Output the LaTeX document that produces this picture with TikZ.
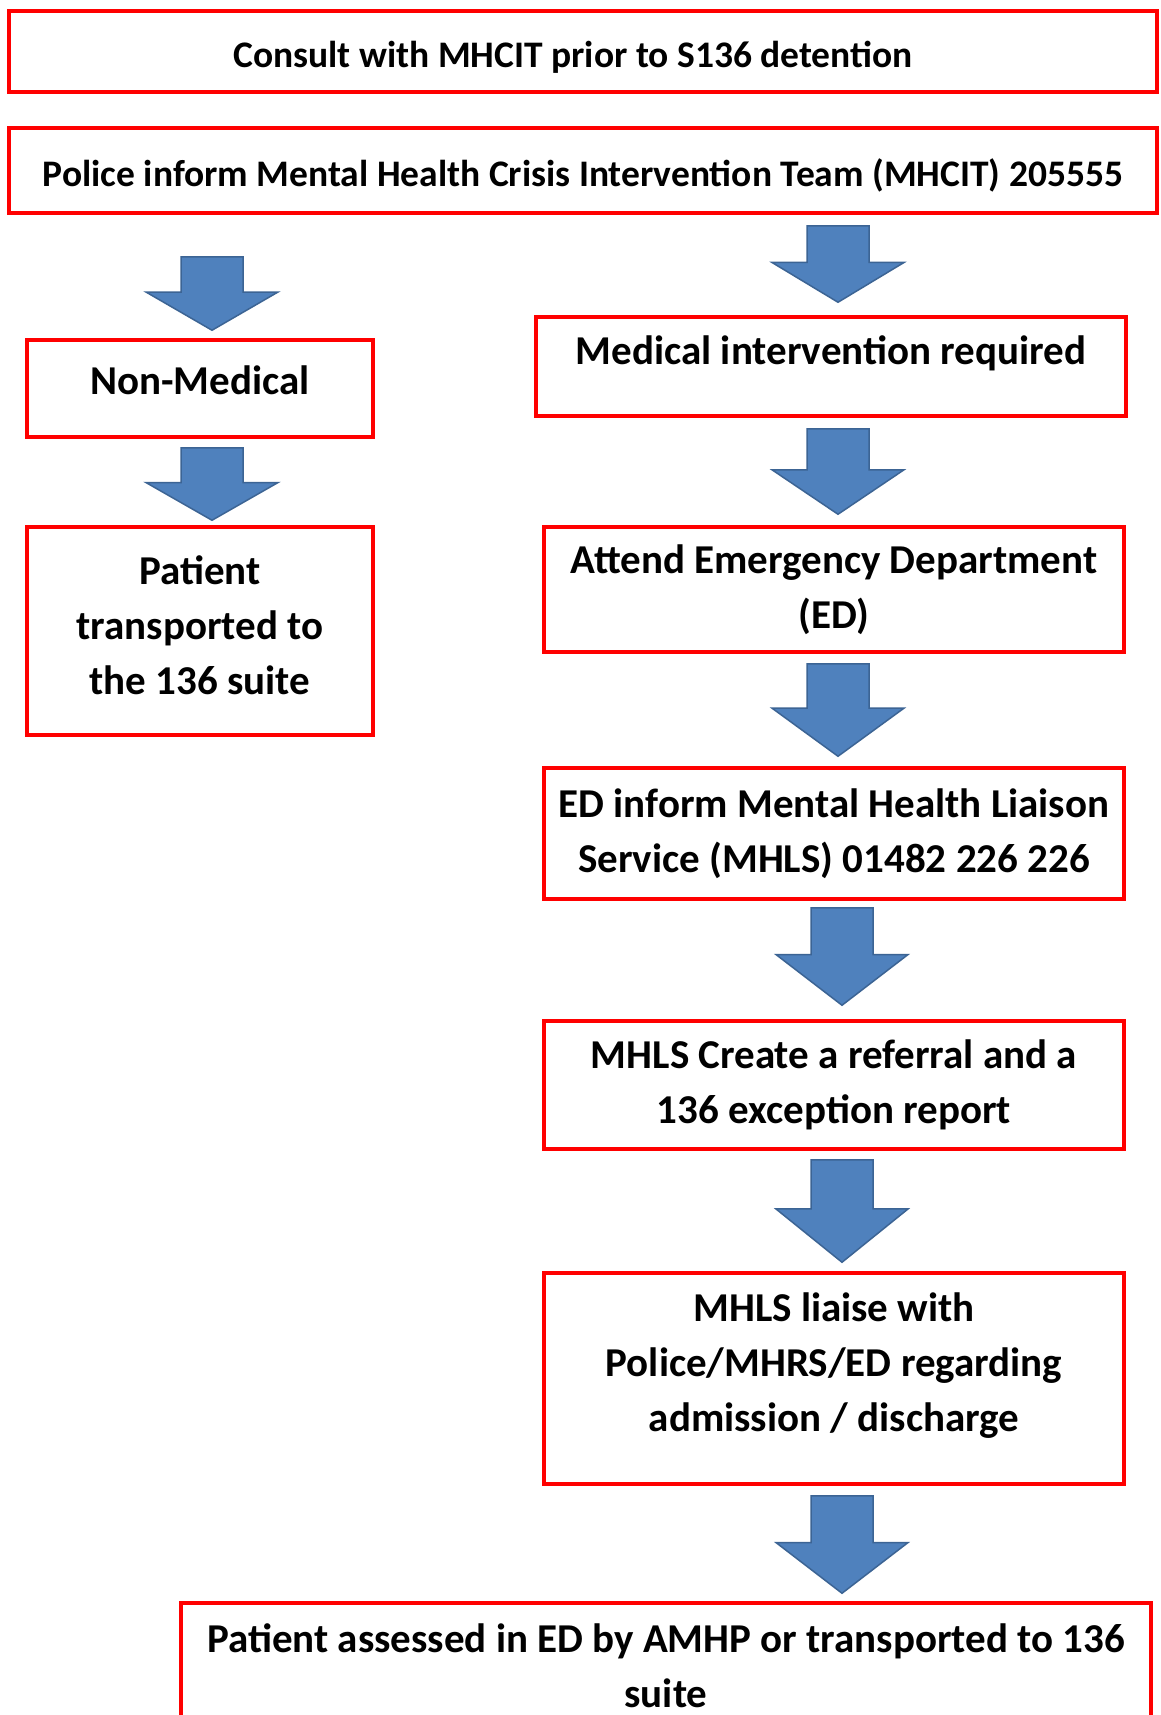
\documentclass[tikz,border=0pt]{standalone}
\usepackage{fontspec}
\setmainfont{Carlito}
\usetikzlibrary{calc}

\definecolor{boxred}{HTML}{FF0000}
\definecolor{arrowfill}{HTML}{4F81BD}
\definecolor{arrowline}{HTML}{3C6494}

% raise a line of text without changing the space it takes
\newcommand\raiseline[2]{\raisebox{#1}[\height][\depth]{#2}}

% block arrow from the bottom of one box to the top of the next
% #1 upper node, #2 lower node, #3 x of the shaft,
% #4 gap below the upper node, #5 gap above the lower node
\newcommand\flowarrow[5]{%
  \path[flowarrow] let \p3=(#3,0),
      \p4=($(#1.south)+(0,#4)$),
      \p5=($(#2.north)+(0,-#5)$),
      \p6=($(\p4)!0.48!(\p5)$) in
    ({\x3-31pt},\y4) -- ({\x3+31pt},\y4) -- ({\x3+31pt},\y6) --
    ({\x3+66pt},\y6) -- (\x3,\y5) -- ({\x3-66pt},\y6) --
    ({\x3-31pt},\y6) -- cycle;
}

\begin{document}
\begin{tikzpicture}[x=1pt,y=-1pt,
  box/.style={draw=boxred, line width=3.5pt, rectangle, inner sep=0pt,
    align=center, font=\fontsize{41}{55}\selectfont\bfseries},
  headbox/.style={box, font=\fontsize{37.5}{45}\selectfont\bfseries},
  flowarrow/.style={fill=arrowfill, draw=arrowline, line width=1.5pt,
    line join=miter}]
\fill[white] (0,0) rectangle (1161,1715);
\clip (0,0) rectangle (1161,1715);

% full-width header boxes
\node[headbox, minimum width=1148pt, minimum height=81pt] (consult) at (583,51.5)
  {\raiseline{-6pt}{Consult with MHCIT prior to S136 detention\hspace*{20pt}}};
\node[headbox, minimum width=1148pt, minimum height=85pt] (police) at (583,170.5)
  {\raiseline{-5pt}{Police inform Mental Health Crisis Intervention Team (MHCIT) 205555}};

% left column
\node[box, minimum width=346pt, minimum height=97pt] (nm) at (200,388.5)
  {\raiseline{8pt}{Non-Medical}};
\node[box, minimum width=346pt, minimum height=208pt] (pt) at (200,631)
  {\raiseline{6pt}{Patient}\\\raiseline{6pt}{transported to}\\\raiseline{6pt}{the 136 suite}};

% right column
\node[box, minimum width=590pt, minimum height=99pt] (med) at (831,366.5)
  {\raiseline{13pt}{Medical intervention required}};
\node[box, minimum width=580pt, minimum height=125pt] (ed) at (834,589.5)
  {Attend Emergency Department\\(ED)};
\node[box, minimum width=580pt, minimum height=131pt] (inf) at (834,833.5)
  {ED inform Mental Health Liaison\\Service (MHLS) 01482 226 226};
\node[box, minimum width=580pt, minimum height=128pt] (ref) at (834,1085)
  {MHLS Create a referral and a\\136 exception report};
\node[box, minimum width=580pt, minimum height=211pt] (liaise) at (834,1378.5)
  {\raiseline{13pt}{MHLS liaise with}\\\raiseline{13pt}{Police/MHRS/ED regarding}\\\raiseline{13pt}{admission / discharge}};
\node[box, minimum width=970pt, minimum height=132pt] (fin) at (666,1669)
  {\raiseline{3pt}{Patient assessed in ED by AMHP or transported to 136}\\\raiseline{3pt}{suite}};

% arrows
\flowarrow{police}{nm}{212}{42}{8}
\flowarrow{police}{med}{838}{11}{13}
\flowarrow{nm}{pt}{212}{9}{5}
\flowarrow{med}{ed}{838}{11}{11}
\flowarrow{ed}{inf}{838}{10}{10}
\flowarrow{inf}{ref}{842}{7}{14}
\flowarrow{ref}{liaise}{842}{9}{9}
\flowarrow{liaise}{fin}{842}{10}{8}
\end{tikzpicture}
\end{document}
